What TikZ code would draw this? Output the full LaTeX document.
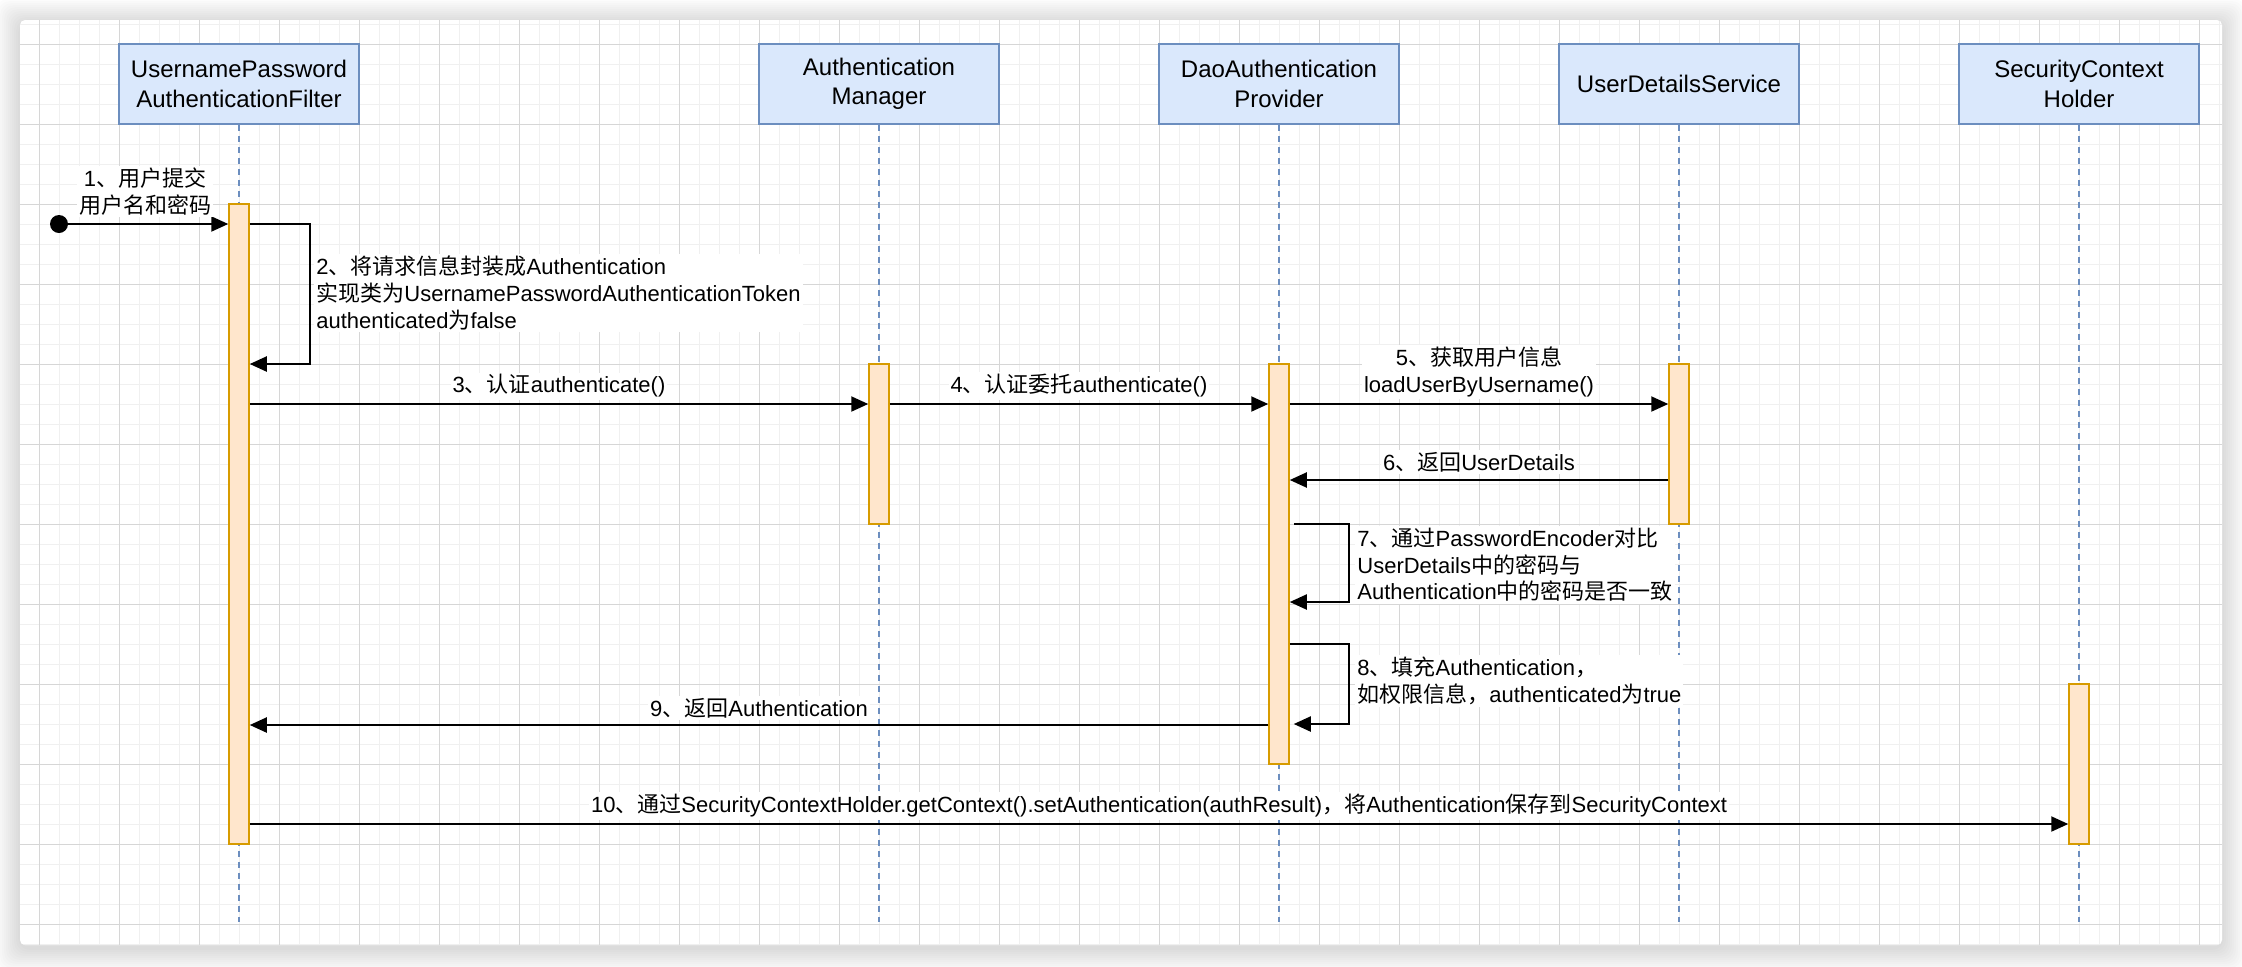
\documentclass[tikz,border=0pt]{standalone}
\usepackage{fontspec}
\setmainfont{Liberation Sans}
\newfontfamily\cjk{Noto Sans CJK SC}
\usetikzlibrary{arrows.meta,calc}
\newcommand\zhs[1]{{\cjk #1}}
\definecolor{boxfill}{HTML}{DAE8FC}
\definecolor{boxline}{HTML}{6C8EBF}
\definecolor{barfill}{HTML}{FFE6CC}
\definecolor{barline}{HTML}{D79B00}
\definecolor{gridmajor}{RGB}{214,214,214}
\definecolor{gridminor}{RGB}{240,240,240}
\begin{document}
\begin{tikzpicture}[x=0.5pt,y=-0.5pt,
  actor/.style={draw=boxline, fill=boxfill, line width=0.75pt, minimum width=120pt, minimum height=40pt, inner sep=0pt, align=center, font=\fontsize{12pt}{14.6pt}\selectfont},
  actbar/.style={draw=barline, fill=barfill, line width=0.75pt, minimum width=10pt, inner sep=0pt},
  life/.style={draw=boxline, line width=0.8pt, dash pattern=on 3pt off 2.5pt},
  msg/.style={line width=1pt, -{Triangle[length=8.5pt,width=7.5pt]}},
  lbl/.style={fill=white, inner sep=1pt, align=center, font=\fontsize{11pt}{13.3pt}\selectfont},
  lbll/.style={lbl, align=left, anchor=west},
]
\useasboundingbox (0,0) rectangle (2242,966);
% shadow
\foreach \i in {1,...,12}{
  \fill[black, opacity=0.011, rounded corners=6pt] ({20-2*\i},{20-2*\i+3}) rectangle ({2222+2*\i},{945+2*\i+3});
}
\fill[white, rounded corners=2.5pt] (20,20) rectangle (2222,945);
% grid
\begin{scope}
\clip[rounded corners=2.5pt] (20,20) rectangle (2222,945);
\foreach \x in {39,59,...,2219} \draw[gridminor, line width=0.5pt] (\x,20) -- (\x,945);
\foreach \y in {24,44,...,944} \draw[gridminor, line width=0.5pt] (20,\y) -- (2222,\y);
\foreach \x in {39,119,...,2199} \draw[gridmajor, line width=0.5pt] (\x,20) -- (\x,945);
\foreach \y in {44,124,...,924} \draw[gridmajor, line width=0.5pt] (20,\y) -- (2222,\y);
\end{scope}
% actors
\node[actor] (a1) at (239,84) {UsernamePassword\\AuthenticationFilter};
\node[actor] (a2) at (879,84) {Authentication\\Manager};
\node[actor] (a3) at (1279,84) {DaoAuthentication\\Provider};
\node[actor] (a4) at (1679,84) {UserDetailsService};
\node[actor] (a5) at (2079,84) {SecurityContext\\Holder};
\coordinate (lend) at (0,922);
\foreach \a in {a1,a2,a3,a4,a5} \draw[life] (\a.south) -- (\a.south |- lend);
% activation bars
\node[actbar, minimum height=320pt] (b1) at (239,524) {};
\node[actbar, minimum height=80pt] (b2) at (879,444) {};
\node[actbar, minimum height=200pt] (b3) at (1279,564) {};
\node[actbar, minimum height=80pt] (b4) at (1679,444) {};
\node[actbar, minimum height=80pt] (b5) at (2079,764) {};
% message levels
\coordinate (y2) at (0,364);
\coordinate (y3) at (0,404);
\coordinate (y6) at (0,480);
\coordinate (y7a) at (0,524);
\coordinate (y7b) at (0,602);
\coordinate (y8a) at (0,644);
\coordinate (y8b) at (0,724);
\coordinate (y9) at (0,725);
\coordinate (y10) at (0,824);
\node[circle, fill=black, minimum size=9pt, inner sep=0pt] (start) at (59,224) {};
\draw[msg] (start) -- (b1.west |- start);
\draw[msg] (b1.east |- start) -- ++(60,0) |- (b1.east |- y2);
\draw[msg] (b1.east |- y3) -- (b2.west |- y3);
\draw[msg] (b2.east |- y3) -- (b3.west |- y3);
\draw[msg] (b3.east |- y3) -- (b4.west |- y3);
\draw[msg] (b4.west |- y6) -- (b3.east |- y6);
\coordinate (k7) at ($(b3.east |- y7a)+(4,0)$);
\draw[msg] (k7) -- ++(55,0) |- (b3.east |- y7b);
\coordinate (k8) at ($(b3.east |- y8b)+(4,0)$);
\draw[msg] (b3.east |- y8a) -- ++(59,0) |- (k8);
\draw[msg] (b3.west |- y9) -- (b1.east |- y9);
\draw[msg] (b1.east |- y10) -- (b5.west |- y10);
% labels
\node[lbl] (t1) at (145,191.5) {1\zhs{、用户提交}\\\zhs{用户名和密码}};
\node[lbll] (t2) at (314,293) {2\zhs{、将请求信息封装成}Authentication\\\zhs{实现类为}UsernamePasswordAuthenticationToken\\authenticated\zhs{为}false};
\node[lbl] (t3) at (559,386) {3\zhs{、认证}authenticate()};
\node[lbl] (t4) at (1079,386) {4\zhs{、认证委托}authenticate()};
\node[lbl] (t5) at (1479,372) {5\zhs{、获取用户信息}\\loadUserByUsername()};
\node[lbl] (t6) at (1479,462) {6\zhs{、返回}UserDetails};
\node[lbll] (t7) at (1355,565) {7\zhs{、通过}PasswordEncoder\zhs{对比}\\UserDetails\zhs{中的密码与}\\Authentication\zhs{中的密码是否一致}};
\node[lbll] (t8) at (1355,681) {8\zhs{、填充}Authentication\zhs{，}\\\zhs{如权限信息，}authenticated\zhs{为}true};
\node[lbl] (t9) at (759,708) {9\zhs{、返回}Authentication};
\node[lbl] (t10) at (1159,806) {10\zhs{、通过}SecurityContextHolder.getContext().setAuthentication(authResult)\zhs{，将}Authentication\zhs{保存到}SecurityContext};
\end{tikzpicture}
\end{document}
